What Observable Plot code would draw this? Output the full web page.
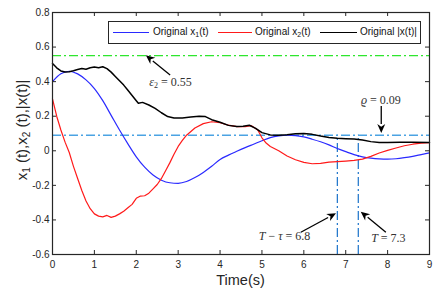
<!DOCTYPE html>
<html><head><meta charset="utf-8">
<script src="https://cdn.jsdelivr.net/npm/d3@7"></script>
<script src="https://cdn.jsdelivr.net/npm/@observablehq/plot@0.6"></script>
<style>
body{margin:0;background:#fff;}
#wrap{position:relative;width:442px;height:291px;}
#legend{position:absolute;left:108px;top:21px;width:311px;height:21px;border:1px solid #262626;background:#fff;font:10px "Liberation Sans",Arial,sans-serif;color:#111;}
#legend .ln{position:absolute;top:10px;height:0;border-top-width:1.3px;border-top-style:solid;}
#legend .tx{position:absolute;top:4px;white-space:nowrap;}
#legend sub{font-size:7px;vertical-align:-2px;line-height:0;}
</style></head>
<body><div id="wrap"></div>
<script>
// time grid and series
const tX1 = [0,0.2,0.4,0.6,0.8,1.0,1.2,1.4,1.6,1.8,2.0,2.2,2.4,2.6,2.8,3.0,3.2,3.4,3.6,3.8,4.0,4.2,4.4,4.6,4.8,5.0,5.2,5.4,5.6,5.8,6.0,6.2,6.4,6.6,6.8,7.0,7.2,7.4,7.6,7.8,8.0,8.2,8.4,8.6,8.8,9.0];
const x1 = [0.40,0.445,0.46,0.445,0.41,0.36,0.29,0.205,0.12,0.04,-0.035,-0.095,-0.14,-0.17,-0.185,-0.188,-0.178,-0.155,-0.125,-0.09,-0.05,-0.025,-0.003,0.018,0.038,0.058,0.076,0.086,0.09,0.088,0.08,0.067,0.052,0.034,0.013,-0.005,-0.022,-0.035,-0.043,-0.047,-0.048,-0.046,-0.04,-0.032,-0.022,-0.012];
const tX2 = [0,0.1,0.2,0.3,0.4,0.5,0.6,0.7,0.8,0.9,1.0,1.1,1.2,1.3,1.4,1.5,1.6,1.7,1.8,1.9,2.0,2.1,2.2,2.3,2.4,2.5,2.6,2.7,2.8,2.9,3.0,3.1,3.2,3.4,3.6,3.8,4.0,4.2,4.4,4.6,4.75,4.9,5.0,5.1,5.2,5.4,5.6,5.8,6.0,6.2,6.4,6.6,6.8,7.0,7.2,7.4,7.6,7.8,8.0,8.2,8.4,8.6,8.8,9.0];
const x2 = [0.30,0.20,0.12,0.05,-0.01,-0.09,-0.16,-0.23,-0.29,-0.335,-0.365,-0.378,-0.382,-0.374,-0.385,-0.378,-0.365,-0.35,-0.33,-0.31,-0.275,-0.262,-0.26,-0.245,-0.22,-0.195,-0.16,-0.115,-0.07,-0.02,0.025,0.06,0.09,0.132,0.157,0.168,0.163,0.148,0.14,0.14,0.145,0.12,0.075,0.045,0.025,0.0,-0.03,-0.052,-0.067,-0.075,-0.073,-0.066,-0.063,-0.06,-0.056,-0.048,-0.032,-0.013,0.002,0.016,0.029,0.038,0.044,0.047];
const tN = [0,0.1,0.2,0.3,0.4,0.5,0.6,0.7,0.8,0.9,1.0,1.1,1.2,1.3,1.4,1.5,1.6,1.7,1.8,1.9,2.0,2.05,2.15,2.3,2.45,2.6,2.75,2.9,3.1,3.3,3.5,3.65,3.8,4.0,4.2,4.4,4.55,4.7,4.85,5.0,5.2,5.4,5.6,5.8,6.0,6.2,6.4,6.6,6.8,7.0,7.2,7.4,7.6,7.8,8.0,8.3,8.6,9.0];
const xNorm = [0.505,0.48,0.462,0.456,0.457,0.463,0.47,0.476,0.472,0.48,0.485,0.48,0.486,0.475,0.455,0.43,0.405,0.38,0.35,0.32,0.29,0.275,0.28,0.265,0.245,0.22,0.198,0.19,0.19,0.195,0.2,0.198,0.18,0.165,0.147,0.14,0.142,0.148,0.13,0.105,0.092,0.09,0.093,0.098,0.1,0.095,0.085,0.077,0.072,0.07,0.068,0.062,0.053,0.048,0.048,0.049,0.049,0.048];

const xTicks = [0,1,2,3,4,5,6,7,8,9];
const yTicks = [-0.6,-0.4,-0.2,0,0.2,0.4,0.6,0.8];
const yTickLabels = ["-0.6","-0.4","-0.2","0","0.2","0.4","0.6","0.8"];

const eps2 = 0.55, rho = 0.09, Tmt = 6.8, Tend = 7.3;
// annotation texts [x, y] in data units
const annotations = [
  {x:2.83, y:0.397, parts:[["ε",1],["2",2],[" = 0.55",0]]},
  {x:7.85, y:0.291, parts:[["ϱ",1],[" = 0.09",0]]},
  {x:5.55, y:-0.494, parts:[["T",1],[" − ",0],["τ",1],[" = 6.8",0]]},
  {x:8.03, y:-0.509, parts:[["T",1],[" = 7.3",0]]}
];
const arrows = [
  {x1:2.82, y1:0.436, x2:2.24, y2:0.55},
  {x1:7.86, y1:0.256, x2:7.86, y2:0.1},
  {x1:5.94, y1:-0.474, x2:6.78, y2:-0.364},
  {x1:7.97, y1:-0.474, x2:7.37, y2:-0.355}
];

const s1 = tX1.map((t,i)=>({t, v:x1[i]}));
const s2 = tX2.map((t,i)=>({t, v:x2[i]}));
const sN = tN.map((t,i)=>({t, v:xNorm[i]}));

const W=442,H=291,mL=52,mR=13,mT=12,mB=37;
const fw = W-mL-mR, fh = H-mT-mB;
const ink = "#262626";
const dashdot = "9,3,2,3";

const plot = Plot.plot({
  width:W, height:H, marginLeft:mL, marginRight:mR, marginTop:mT, marginBottom:mB,
  x:{domain:[0,9]}, y:{domain:[-0.6,0.8]},
  style:{fontFamily:'"Liberation Sans", Arial, sans-serif', fontSize:"10px", color:ink, background:"#fff"},
  marks:[
    Plot.ruleY([eps2], {stroke:"#2ee62e", strokeWidth:1.3, strokeDasharray:dashdot}),
    Plot.ruleY([rho], {stroke:"#4ba3e3", strokeWidth:1.3, strokeDasharray:dashdot}),
    Plot.ruleX([Tmt, Tend], {y1:-0.6, y2:rho, stroke:"#1a72c9", strokeWidth:1.2, strokeDasharray:dashdot}),
    Plot.line(s1, {x:"t", y:"v", stroke:"#2a2aff", strokeWidth:1.2, curve:"monotone-x"}),
    Plot.line(s2, {x:"t", y:"v", stroke:"#ff1a1a", strokeWidth:1.2, curve:"linear"}),
    Plot.line(sN, {x:"t", y:"v", stroke:"#000", strokeWidth:1.5, curve:"linear"}),
    Plot.axisX(xTicks, {tickSize:0, tickPadding:6, label:null, fontSize:10}),
    Plot.axisY(yTicks, {tickSize:0, tickPadding:3, label:null, tickFormat:(d,i)=>yTickLabels[i], fontSize:10}),
    Plot.tickX(xTicks, {x:d=>d, insetTop:fh-4, stroke:ink}),
    Plot.tickX(xTicks, {x:d=>d, insetBottom:fh-4, stroke:ink}),
    Plot.tickY(yTicks, {y:d=>d, insetRight:fw-4, stroke:ink}),
    Plot.tickY(yTicks, {y:d=>d, insetLeft:fw-4, stroke:ink}),
    Plot.frame({stroke:ink, strokeWidth:1.2})
  ]
});
document.getElementById("wrap").appendChild(plot);

const sx = plot.scale("x"), sy = plot.scale("y");
const svg = d3.select(plot);

// arrows with filled heads
arrows.forEach(a=>{
  const X1=sx.apply(a.x1), Y1=sy.apply(a.y1), X2=sx.apply(a.x2), Y2=sy.apply(a.y2);
  const ang = Math.atan2(Y2-Y1, X2-X1), L=9, w=4;
  const bx = X2 - L*Math.cos(ang), by = Y2 - L*Math.sin(ang);
  svg.append("line").attr("x1",X1).attr("y1",Y1).attr("x2",bx).attr("y2",by).attr("stroke","#000").attr("stroke-width",1.3);
  const px=-Math.sin(ang), py=Math.cos(ang);
  svg.append("path").attr("d",`M${X2},${Y2}L${bx+px*w},${by+py*w}L${bx+L*0.3*Math.cos(ang)},${by+L*0.3*Math.sin(ang)}L${bx-px*w},${by-py*w}Z`).attr("fill","#000");
});

// annotation texts
annotations.forEach(a=>{
  const t = svg.append("text").attr("x",sx.apply(a.x)).attr("y",sy.apply(a.y)).attr("dy","0.35em")
    .attr("text-anchor","middle").attr("font-family",'"Liberation Serif","DejaVu Serif",serif').attr("font-size",12).attr("fill","#333");
  a.parts.forEach(([s,k])=>{
    const ts = t.append("tspan").text(s);
    if(k===1) ts.attr("font-style","italic");
    if(k===2) ts.attr("font-size",8).attr("baseline-shift","-25%");
  });
});

// axis titles
svg.append("text").attr("x",(mL+W-mR)/2).attr("y",285).attr("text-anchor","middle")
  .attr("font-family",'"Liberation Sans",Arial,sans-serif').attr("font-size",14.5).attr("fill",ink).text("Time(s)");
const yl = svg.append("text").attr("transform","translate(27,130) rotate(-90)").attr("text-anchor","middle")
  .attr("font-family",'"Liberation Sans",Arial,sans-serif').attr("font-size",15).attr("fill",ink);
[["x",0],["1",1],[" (t),",0],["x",0],["2",1],[" (t),|x(t)|",0]].forEach(([s,k])=>{
  const ts = yl.append("tspan").text(s);
  if(k) ts.attr("font-size",10).attr("baseline-shift","-30%");
});

// legend
const legendItems = [
  {label:"x", sub:"1", color:"#2a2aff", l1:4, l2:40, tx:44},
  {label:"x", sub:"2", color:"#ff1a1a", l1:109, l2:143, tx:146},
  {label:"|x(t)|", sub:null, color:"#000", l1:211, l2:248, tx:251}
];
const lg = document.createElement("div"); lg.id="legend";
legendItems.forEach(it=>{
  const ln=document.createElement("div"); ln.className="ln";
  ln.style.left=it.l1+"px"; ln.style.width=(it.l2-it.l1)+"px"; ln.style.borderTopColor=it.color;
  lg.appendChild(ln);
  const tx=document.createElement("div"); tx.className="tx"; tx.style.left=it.tx+"px";
  tx.innerHTML = it.sub ? `Original ${it.label}<sub>${it.sub}</sub>(t)` : `Original ${it.label}`;
  lg.appendChild(tx);
});
document.getElementById("wrap").appendChild(lg);
</script></body></html>
